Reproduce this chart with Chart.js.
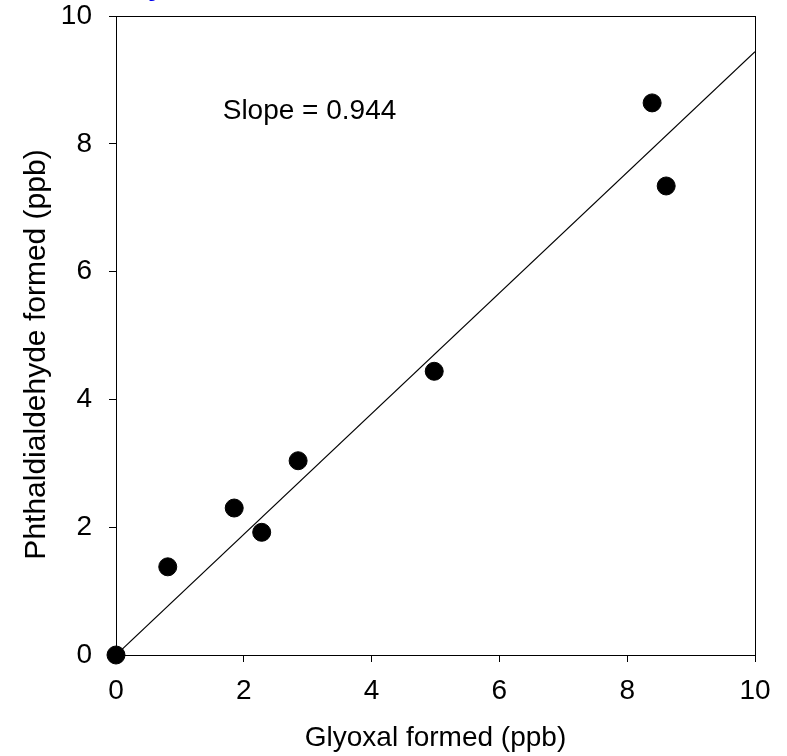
<!DOCTYPE html>
<html lang="en">
<head>
  <meta charset="UTF-8">
  <title>Phthaldialdehyde vs Glyoxal</title>
  <script src="https://cdn.jsdelivr.net/npm/chart.js"></script>
  <style>
    html, body { margin: 0; padding: 0; background: #fff; }
    #wrap { width: 787px; height: 756px; }
  </style>
</head>
<body>
  <div id="wrap"><canvas id="chart" width="787" height="756"></canvas></div>
  <script>
    // measured points
    const glyoxal = [0, 0.81, 1.85, 2.28, 2.85, 4.98, 8.39, 8.61];
    const phthal = [0, 1.38, 2.30, 1.92, 3.04, 4.44, 8.64, 7.34];

    // fitted line ends
    const fitX = [0, 10];
    const fitY = [0, 9.44];

    const xTicks = [0, 2, 4, 6, 8, 10];
    const yTicks = [0, 2, 4, 6, 8, 10];
    const slopeLabel = 'Slope = 0.944';
    const yTitle = 'Phthaldialdehyde formed (ppb)';

    const FONT = 'Arial, "Liberation Sans", sans-serif';
    const SIZE = 28;

    // frame, slope text, y title (sits a bit low in the original) and the clipped blue bit
    const extras = {
      id: 'extras',
      afterDatasetsDraw(chart) {
        const { ctx, chartArea: a, scales } = chart;
        ctx.save();
        ctx.strokeStyle = '#000';
        ctx.lineWidth = 1;
        ctx.strokeRect(a.left + 0.5, a.top + 0.5, a.right - a.left, a.bottom - a.top);

        ctx.fillStyle = '#000';
        ctx.font = SIZE + 'px ' + FONT;
        ctx.textAlign = 'left';
        ctx.textBaseline = 'middle';
        ctx.fillText(slopeLabel, scales.x.getPixelForValue(1.67), scales.y.getPixelForValue(8.51));

        ctx.save();
        ctx.translate(36.5, 354.5);
        ctx.rotate(-Math.PI / 2);
        ctx.font = '30px ' + FONT;
        ctx.textAlign = 'center';
        ctx.fillText(yTitle, 0, 0);
        ctx.restore();

        ctx.fillStyle = '#0000ee';
        ctx.font = 'bold ' + SIZE + 'px ' + FONT;
        ctx.textAlign = 'left';
        ctx.textBaseline = 'alphabetic';
        ctx.fillText('y', 148, -5);
        ctx.restore();
      }
    };

    // keep the plot box where the reference has it
    const noPad = s => { s.paddingTop = 0; s.paddingBottom = 0; s.paddingLeft = 0; s.paddingRight = 0; };

    new Chart(document.getElementById('chart'), {
      type: 'scatter',
      data: {
        datasets: [
          {
            label: 'Fit',
            type: 'line',
            data: fitX.map((x, i) => ({ x, y: fitY[i] })),
            borderColor: '#000',
            borderWidth: 1.2,
            pointRadius: 0,
            fill: false
          },
          {
            label: 'Data',
            data: glyoxal.map((x, i) => ({ x, y: phthal[i] })),
            backgroundColor: '#000',
            borderColor: '#000',
            pointRadius: 9,
            clip: false
          }
        ]
      },
      options: {
        responsive: false,
        animation: false,
        layout: { padding: { top: 16, right: 32, left: 0, bottom: 0 } },
        plugins: { legend: { display: false }, tooltip: { enabled: false } },
        scales: {
          x: {
            type: 'linear',
            min: 0, max: 10,
            afterFit(s) { s.height = 101; noPad(s); },
            afterBuildTicks(s) { s.ticks = xTicks.map(v => ({ value: v })); },
            grid: { drawOnChartArea: false, tickLength: 7, color: '#000' },
            border: { color: '#000' },
            ticks: { color: '#000', font: { size: SIZE, family: FONT }, padding: 12, maxRotation: 0 },
            title: {
              display: true, text: 'Glyoxal formed (ppb)', color: '#000',
              font: { size: SIZE, family: FONT }, padding: { top: 1, bottom: 1 }
            }
          },
          y: {
            type: 'linear',
            min: 0, max: 10,
            afterFit(s) { s.width = 116; noPad(s); },
            afterBuildTicks(s) { s.ticks = yTicks.map(v => ({ value: v })); },
            grid: { drawOnChartArea: false, tickLength: 7, color: '#000' },
            border: { color: '#000' },
            ticks: { color: '#000', font: { size: SIZE, family: FONT }, padding: 17 },
            title: { display: false }
          }
        }
      },
      plugins: [extras]
    });
  </script>
</body>
</html>
